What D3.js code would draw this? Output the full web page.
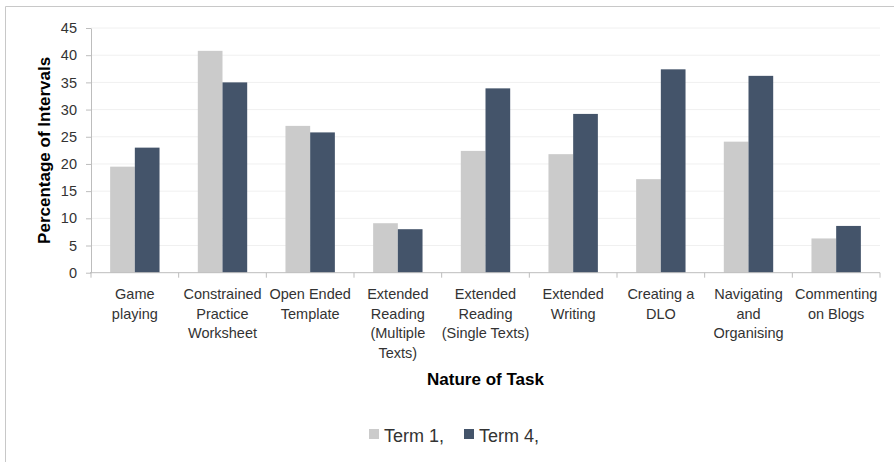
<!DOCTYPE html>
<html>
<head>
<meta charset="utf-8">
<script src="https://cdn.jsdelivr.net/npm/d3@7/dist/d3.min.js"></script>
<style>
  html, body { margin: 0; padding: 0; background: #fff; }
  svg { display: block; font-family: "Liberation Sans", Arial, sans-serif; }
</style>
</head>
<body>
<svg id="chart" width="894" height="462"></svg>
<script>
// Task categories (each entry is the label split into lines)
const categories = [
  ["Game", "playing"],
  ["Constrained", "Practice", "Worksheet"],
  ["Open Ended", "Template"],
  ["Extended", "Reading", "(Multiple", "Texts)"],
  ["Extended", "Reading", "(Single Texts)"],
  ["Extended", "Writing"],
  ["Creating a", "DLO"],
  ["Navigating", "and", "Organising"],
  ["Commenting", "on Blogs"]
];
const seriesNames = ["Term 1,", "Term 4,"];
const term1 = [19.5, 40.8, 27.0, 9.1, 22.4, 21.8, 17.2, 24.1, 6.3];
const term4 = [23.0, 35.0, 25.8, 8.0, 33.9, 29.2, 37.4, 36.2, 8.6];
const yTicks = [0, 5, 10, 15, 20, 25, 30, 35, 40, 45];
const colors = ["#cbcbcb", "#44546a"];

const svg = d3.select("#chart");
const plot = { left: 91, right: 880, top: 28, bottom: 272.7 };

// chart frame
svg.append("line").attr("x1", 5.5).attr("x2", 894).attr("y1", 6.5).attr("y2", 6.5)
  .attr("stroke", "#c8c8c8").attr("stroke-width", 1);
svg.append("line").attr("x1", 5.5).attr("x2", 5.5).attr("y1", 6.5).attr("y2", 462)
  .attr("stroke", "#c8c8c8").attr("stroke-width", 1);

const idx = d3.range(categories.length);
const x0 = d3.scaleBand().domain(idx).range([plot.left, plot.right]).paddingInner(0).paddingOuter(0);
const x1 = d3.scaleBand().domain([0, 1]).range([0, x0.bandwidth()]).paddingInner(0).paddingOuter(0.775);
const y = d3.scaleLinear().domain([0, 45]).range([plot.bottom, plot.top]);

// gridlines
svg.append("g").selectAll("line").data(yTicks.filter(d => d > 0)).join("line")
  .attr("x1", plot.left).attr("x2", plot.right)
  .attr("y1", d => y(d)).attr("y2", d => y(d))
  .attr("stroke", "#f0f0f0").attr("stroke-width", 1);

// bars
const series = [term1, term4];
const g = svg.append("g");
series.forEach((vals, s) => {
  g.selectAll(".s" + s).data(vals).join("rect")
    .attr("class", "s" + s)
    .attr("x", (d, i) => x0(i) + x1(s))
    .attr("width", x1.bandwidth())
    .attr("y", d => y(d))
    .attr("height", d => y(0) - y(d))
    .attr("fill", colors[s]);
});

// y axis
const yAxis = d3.axisLeft(y).tickValues(yTicks).tickSize(5).tickPadding(9).tickSizeOuter(0);
const ya = svg.append("g").attr("transform", `translate(${plot.left},0)`).call(yAxis);
ya.select(".domain").attr("stroke", "#bdbdbd");
ya.selectAll(".tick line").attr("stroke", "#bdbdbd");
ya.selectAll(".tick text").attr("font-size", "14.5px").attr("fill", "#333")
  .attr("font-family", "'Liberation Sans', Arial, sans-serif");

// x axis (ticks at category boundaries)
const xa = svg.append("g").attr("transform", `translate(0,${plot.bottom})`);
xa.append("line").attr("x1", plot.left - 1).attr("x2", plot.right).attr("y1", 0).attr("y2", 0)
  .attr("stroke", "#bdbdbd");
xa.selectAll(".bt").data(d3.range(categories.length + 1)).join("line")
  .attr("class", "bt")
  .attr("x1", i => plot.left + i * x0.step()).attr("x2", i => plot.left + i * x0.step())
  .attr("y1", 0).attr("y2", 5).attr("stroke", "#bdbdbd");

// category labels
const lbl = svg.append("g");
categories.forEach((lines, i) => {
  const t = lbl.append("text")
    .attr("x", x0(i) + x0.bandwidth() / 2)
    .attr("y", 299)
    .attr("text-anchor", "middle")
    .attr("font-size", "14.5px")
    .attr("fill", "#333");
  lines.forEach((ln, k) => {
    t.append("tspan").attr("x", x0(i) + x0.bandwidth() / 2).attr("dy", k === 0 ? 0 : 19.5).text(ln);
  });
});

// axis titles
svg.append("text")
  .attr("transform", `translate(50,${(plot.top + plot.bottom) / 2}) rotate(-90)`)
  .attr("text-anchor", "middle").attr("font-size", "17px").attr("font-weight", "bold")
  .attr("fill", "#000").text("Percentage of Intervals");
svg.append("text")
  .attr("x", (plot.left + plot.right) / 2).attr("y", 385)
  .attr("text-anchor", "middle").attr("font-size", "17px").attr("font-weight", "bold")
  .attr("fill", "#000").text("Nature of Task");

// legend
const legendX = [369, 464];
const leg = svg.append("g");
seriesNames.forEach((name, s) => {
  leg.append("rect").attr("x", legendX[s]).attr("y", 429).attr("width", 10).attr("height", 10)
    .attr("fill", colors[s]);
  leg.append("text").attr("x", legendX[s] + 15).attr("y", 442)
    .attr("font-size", "18px").attr("fill", "#333").text(name);
});
</script>
</body>
</html>
